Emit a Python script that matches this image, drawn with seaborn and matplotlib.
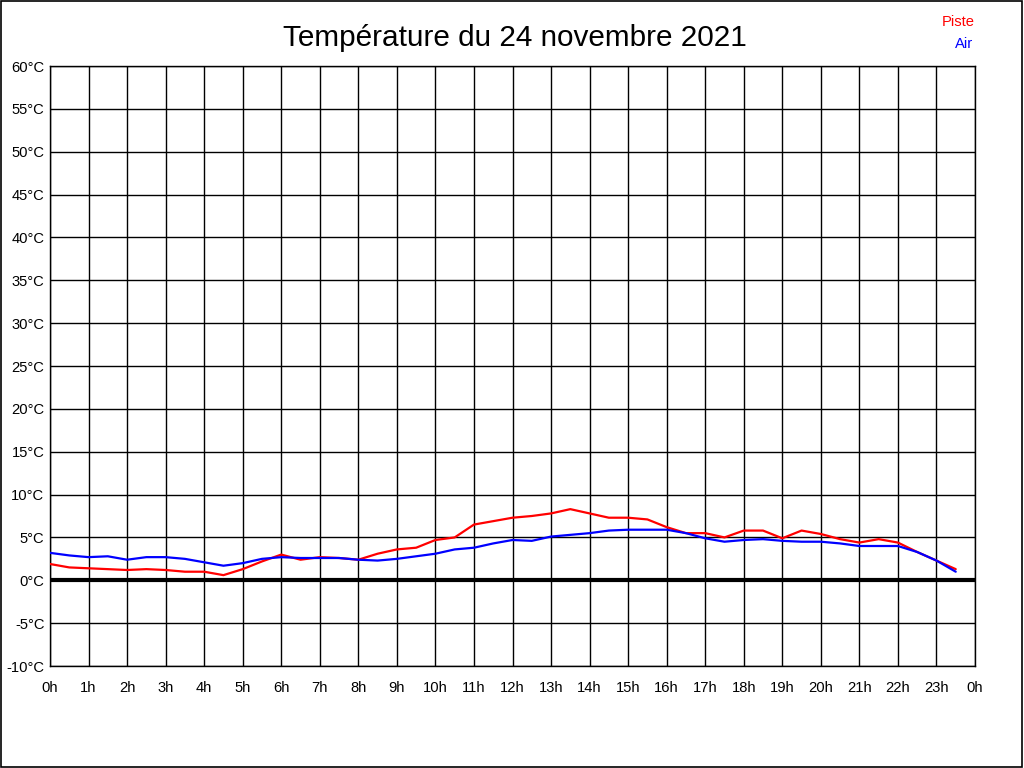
import matplotlib
matplotlib.use("Agg")
import matplotlib.pyplot as plt
import seaborn as sns
import pandas as pd
import numpy as np
from matplotlib.patches import Rectangle

hours = [i * 0.5 for i in range(48)]
piste = [1.9, 1.5, 1.4, 1.3, 1.2, 1.3, 1.2, 1.0, 1.0, 0.6,
         1.3, 2.2, 3.0, 2.4, 2.7, 2.6, 2.4, 3.1, 3.6, 3.8,
         4.7, 5.0, 6.5, 6.9, 7.3, 7.5, 7.8, 8.3, 7.8, 7.3,
         7.3, 7.1, 6.2, 5.5, 5.5, 5.0, 5.8, 5.8, 4.9, 5.8,
         5.4, 4.8, 4.4, 4.8, 4.4, 3.3, 2.3, 1.3]
air = [3.2, 2.9, 2.7, 2.8, 2.4, 2.7, 2.7, 2.5, 2.1, 1.7,
       2.0, 2.5, 2.7, 2.6, 2.6, 2.6, 2.4, 2.3, 2.5, 2.8,
       3.1, 3.6, 3.8, 4.3, 4.7, 4.6, 5.1, 5.3, 5.5, 5.8,
       5.9, 5.9, 5.9, 5.5, 4.9, 4.5, 4.7, 4.8, 4.6, 4.5,
       4.5, 4.3, 4.0, 4.0, 4.0, 3.3, 2.3, 1.0]
x_ticks = list(range(25))
x_labels = [f"{h % 24}h" for h in x_ticks]
y_ticks = list(range(-10, 61, 5))
y_labels = [f"{v}°C" for v in y_ticks]
title = "Température du 24 novembre 2021"
series_names = ["Piste", "Air"]
colors = {"Piste": "#ff0000", "Air": "#0000ff"}

df = pd.concat([
    pd.DataFrame({"heure": hours, "temp": piste, "serie": "Piste"}),
    pd.DataFrame({"heure": hours, "temp": air, "serie": "Air"}),
])

sns.set_theme(style="white")
plt.rcParams["font.family"] = ["Liberation Sans", "DejaVu Sans"]

fig = plt.figure(figsize=(10.24, 7.68), dpi=100)
ax = fig.add_axes([50 / 1024, (768 - 666) / 768, 925 / 1024, 600 / 768])

for v in y_ticks:
    ax.axhline(v, color="black", lw=1, zorder=1)
for h in x_ticks:
    ax.axvline(h, color="black", lw=1, zorder=1)
ax.axhline(0, color="black", lw=3, zorder=2)

sns.lineplot(data=df, x="heure", y="temp", hue="serie", palette=colors,
             hue_order=series_names, ax=ax, lw=1.6, legend=False, zorder=3)

ax.set_xlim(0, 24)
ax.set_ylim(-10, 60)
ax.set_xticks(x_ticks)
ax.set_xticklabels(x_labels)
ax.set_yticks(y_ticks)
ax.set_yticklabels(y_labels)
ax.tick_params(axis="both", length=0, labelsize=10.6, colors="black", pad=4)
ax.tick_params(axis="x", pad=11)
ax.set_xlabel("")
ax.set_ylabel("")
for s in ax.spines.values():
    s.set_color("black")
    s.set_linewidth(1)

fig.text(515 / 1024, 1 - 46 / 768, title, ha="center", va="baseline",
         fontsize=21.4, color="black")
fig.text(975 / 1024, 1 - 21.5 / 768, "Piste", ha="right", va="center",
         fontsize=10.6, color=colors["Piste"])
fig.text(973 / 1024, 1 - 43.5 / 768, "Air", ha="right", va="center",
         fontsize=10.6, color=colors["Air"])

fig.patches.append(Rectangle((0.0005, 0.0007), 0.998, 0.998, transform=fig.transFigure,
                             fill=False, edgecolor="black", lw=1.2))

fig.savefig("out.png", dpi=100)
